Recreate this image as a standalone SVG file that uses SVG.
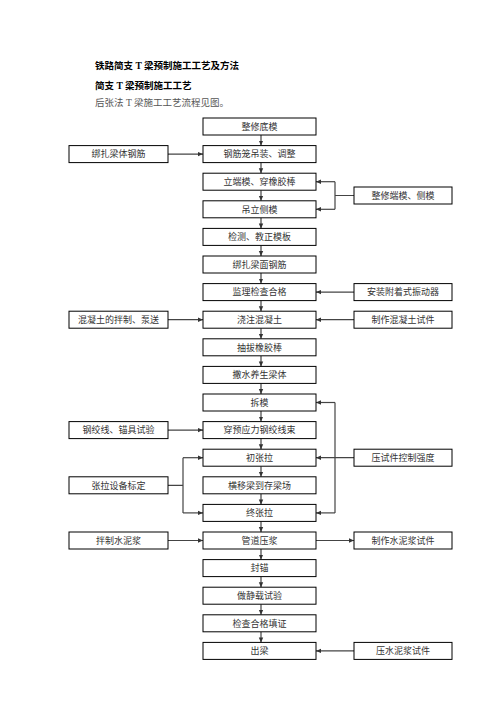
<svg xmlns="http://www.w3.org/2000/svg" width="496" height="702" viewBox="0 0 496 702">
<defs>
<marker id="ah" markerWidth="6" markerHeight="6" refX="5" refY="3" orient="auto" markerUnits="userSpaceOnUse">
<path d="M0,0.8 L5,3 L0,5.2 Z" fill="#333"/>
</marker>
<style>
.b{fill:#fff;stroke:#000;stroke-width:1}
.t{font-family:"Liberation Serif","Noto Sans CJK SC",serif;font-size:9px;fill:#333;text-anchor:middle}
.h{font-family:"Liberation Serif","Noto Sans CJK SC",serif;font-size:9.5px;font-weight:bold;fill:#000}
.p{font-family:"Liberation Serif","Noto Sans CJK SC",serif;font-size:9.5px;fill:#555}
.c{fill:none;stroke:#444;stroke-width:1.2}
.a{fill:none;stroke:#444;stroke-width:1.2;marker-end:url(#ah)}
</style>
</defs>
<rect width="496" height="702" fill="#fff"/>
<text class="h" x="95" y="69">铁路简支 T 梁预制施工工艺及方法</text>
<text class="h" x="95" y="89">简支 T 梁预制施工工艺</text>
<text class="p" x="95" y="106">后张法 T 梁施工工艺流程见图。</text>

<g id="connectors">
<path class="a" d="M261,135 V145.6"/>
<path class="a" d="M261,162.6 V173.2"/>
<path class="a" d="M261,190.2 V200.8"/>
<path class="a" d="M261,217.8 V228.4"/>
<path class="a" d="M261,245.4 V256"/>
<path class="a" d="M261,273 V283.6"/>
<path class="a" d="M261,300.6 V311.2"/>
<path class="a" d="M261,328.2 V338.8"/>
<path class="a" d="M261,355.8 V366.4"/>
<path class="a" d="M261,383.4 V394"/>
<path class="a" d="M261,411 V421.6"/>
<path class="a" d="M261,438.6 V449.2"/>
<path class="a" d="M261,466.2 V476.8"/>
<path class="a" d="M261,493.8 V504.4"/>
<path class="a" d="M261,521.4 V532"/>
<path class="a" d="M261,549 V559.6"/>
<path class="a" d="M261,576.6 V587.2"/>
<path class="a" d="M261,604.2 V614.8"/>
<path class="a" d="M261,631.8 V642.4"/>
<!-- left inputs -->
<path class="a" d="M168,154.1 H203"/>
<path class="a" d="M168,319.7 H203"/>
<path class="a" d="M168,430.1 H203"/>
<path class="a" d="M168,540.5 H203"/>
<path class="c" d="M168,485.3 H183 M183,457.7 V512.9"/>
<path class="a" d="M183,457.7 H203"/>
<path class="a" d="M183,512.9 H203"/>
<!-- right inputs -->
<path class="c" d="M354,195.5 H335 M335,181.7 V209.3"/>
<path class="a" d="M335,181.7 H316"/>
<path class="a" d="M335,209.3 H316"/>
<path class="a" d="M354,292.1 H316"/>
<path class="a" d="M354,319.7 H316"/>
<path class="c" d="M335,402.5 V512.9"/>
<path class="a" d="M335,402.5 H316"/>
<path class="a" d="M335,512.9 H316"/>
<path class="a" d="M354,457.7 H316"/>
<path class="a" d="M316,540.5 H354"/>
<path class="a" d="M354,650.9 H316"/>
</g>

<g id="n0"><rect class="b" x="203" y="118" width="113" height="17"/><text class="t" x="259.5" y="129.7">整修底模</text></g>
<g id="n1"><rect class="b" x="203" y="145.6" width="113" height="17"/><text class="t" x="259.5" y="157.3">钢筋笼吊装、调整</text></g>
<g id="n2"><rect class="b" x="203" y="173.2" width="113" height="17"/><text class="t" x="259.5" y="184.9">立端模、穿橡胶棒</text></g>
<g id="n3"><rect class="b" x="203" y="200.8" width="113" height="17"/><text class="t" x="259.5" y="212.5">吊立侧模</text></g>
<g id="n4"><rect class="b" x="203" y="228.4" width="113" height="17"/><text class="t" x="259.5" y="240.1">检测、教正模板</text></g>
<g id="n5"><rect class="b" x="203" y="256" width="113" height="17"/><text class="t" x="259.5" y="267.7">绑扎梁面钢筋</text></g>
<g id="n6"><rect class="b" x="203" y="283.6" width="113" height="17"/><text class="t" x="259.5" y="295.3">监理检查合格</text></g>
<g id="n7"><rect class="b" x="203" y="311.2" width="113" height="17"/><text class="t" x="259.5" y="322.9">浇注混凝土</text></g>
<g id="n8"><rect class="b" x="203" y="338.8" width="113" height="17"/><text class="t" x="259.5" y="350.5">抽拔橡胶棒</text></g>
<g id="n9"><rect class="b" x="203" y="366.4" width="113" height="17"/><text class="t" x="259.5" y="378.1">撒水养生梁体</text></g>
<g id="n10"><rect class="b" x="203" y="394" width="113" height="17"/><text class="t" x="259.5" y="405.7">拆模</text></g>
<g id="n11"><rect class="b" x="203" y="421.6" width="113" height="17"/><text class="t" x="259.5" y="433.3">穿预应力钢绞线束</text></g>
<g id="n12"><rect class="b" x="203" y="449.2" width="113" height="17"/><text class="t" x="259.5" y="460.9">初张拉</text></g>
<g id="n13"><rect class="b" x="203" y="476.8" width="113" height="17"/><text class="t" x="259.5" y="488.5">横移梁到存梁场</text></g>
<g id="n14"><rect class="b" x="203" y="504.4" width="113" height="17"/><text class="t" x="259.5" y="516.1">终张拉</text></g>
<g id="n15"><rect class="b" x="203" y="532" width="113" height="17"/><text class="t" x="259.5" y="543.7">管道压浆</text></g>
<g id="n16"><rect class="b" x="203" y="559.6" width="113" height="17"/><text class="t" x="259.5" y="571.3">封锚</text></g>
<g id="n17"><rect class="b" x="203" y="587.2" width="113" height="17"/><text class="t" x="259.5" y="598.9">做静载试验</text></g>
<g id="n18"><rect class="b" x="203" y="614.8" width="113" height="17"/><text class="t" x="259.5" y="626.5">检查合格填证</text></g>
<g id="n19"><rect class="b" x="203" y="642.4" width="113" height="17"/><text class="t" x="259.5" y="654.1">出梁</text></g>

<g id="l1"><rect class="b" x="69" y="145.6" width="99" height="17"/><text class="t" x="118.5" y="157.3">绑扎梁体钢筋</text></g>
<g id="l2"><rect class="b" x="69" y="311.2" width="99" height="17"/><text class="t" x="118.5" y="322.9">混凝土的拌制、泵送</text></g>
<g id="l3"><rect class="b" x="69" y="421.6" width="99" height="17"/><text class="t" x="118.5" y="433.3">钢绞线、锚具试验</text></g>
<g id="l4"><rect class="b" x="69" y="476.8" width="99" height="17"/><text class="t" x="118.5" y="488.5">张拉设备标定</text></g>
<g id="l5"><rect class="b" x="69" y="532" width="99" height="17"/><text class="t" x="118.5" y="543.7">拌制水泥浆</text></g>

<g id="r1"><rect class="b" x="354" y="187" width="98" height="17"/><text class="t" x="403" y="198.7">整修端模、侧模</text></g>
<g id="r2"><rect class="b" x="354" y="283.6" width="98" height="17"/><text class="t" x="403" y="295.3">安装附着式振动器</text></g>
<g id="r3"><rect class="b" x="354" y="311.2" width="98" height="17"/><text class="t" x="403" y="322.9">制作混凝土试件</text></g>
<g id="r4"><rect class="b" x="354" y="449.2" width="98" height="17"/><text class="t" x="403" y="460.9">压试件控制强度</text></g>
<g id="r5"><rect class="b" x="354" y="532" width="98" height="17"/><text class="t" x="403" y="543.7">制作水泥浆试件</text></g>
<g id="r6"><rect class="b" x="354" y="642.4" width="98" height="17"/><text class="t" x="403" y="654.1">压水泥浆试件</text></g>
</svg>
